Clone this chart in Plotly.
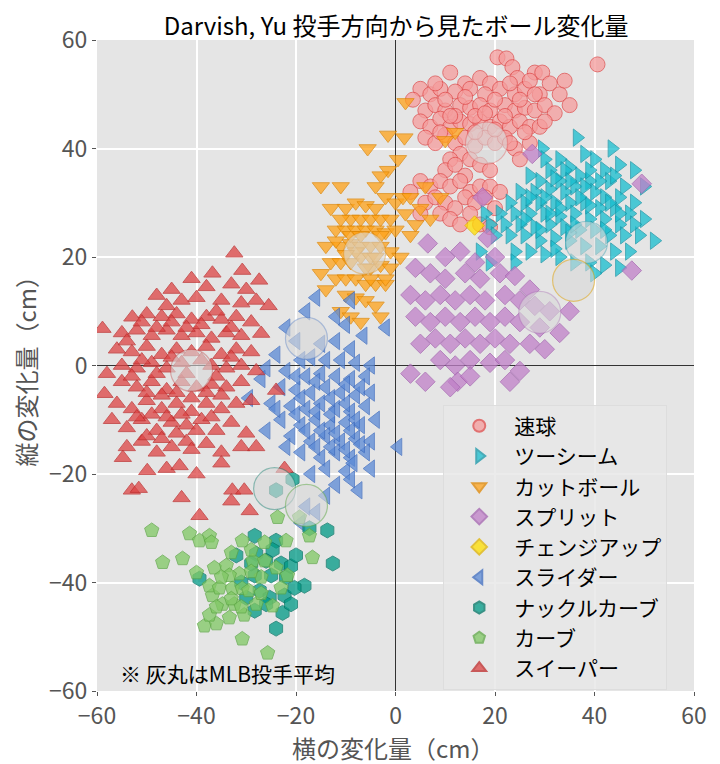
import plotly.graph_objects as go

# pitch types (legend order)
pitch_names = ["速球", "ツーシーム", "カットボール", "スプリット", "チェンジアップ",
               "スライダー", "ナックルカーブ", "カーブ", "スイーパー"]

# (horizontal cm, vertical cm)
fastball = [
    (20.5, 56.8), (22.3, 56.6), (23.5, 55), (24.5, 53), (28, 54), (29.5, 54), (31, 52), (17, 53), (19, 52),
    (11, 54), (14, 52), (40.6, 55.5), (5, 51), (7, 50), (9, 51), (12, 50.5), (15, 51), (18, 50), (21, 51),
    (24, 50), (26, 51), (29, 50), (33, 50), (35, 48), (3.5, 49), (6, 47), (8, 48), (10, 47), (13, 48),
    (15, 47.5), (17, 48), (19, 47), (22, 48), (24, 47), (26, 47.5), (28, 47), (30, 48), (32, 46.5),
    (5, 45), (7, 44), (9, 45.5), (11, 44), (13, 45), (15, 44.5), (17, 45), (19, 44), (21, 45), (23, 44),
    (25, 45), (27, 44), (29, 44), (6, 42), (8, 41), (10, 42.5), (12, 41), (14, 42), (16, 40.5), (18, 42),
    (20, 41), (22, 42), (24, 40), (27, 41), (13, 39), (15, 38), (11, 38), (25, 38), (10, 36), (12, 37),
    (17, 37), (19, 36), (14, 35), (3, 32), (5, 34), (7, 33), (9, 34), (11, 33), (13, 34), (15, 32),
    (17, 33), (19, 33), (6, 30), (8, 31), (10, 30), (12, 29), (14, 31), (16, 30), (18, 31), (9, 28),
    (11, 27), (13, 26), (15, 28), (17, 26), (19, 25.5), (5, 28), (21, 32), (20, 29),
    (8, 52), (10, 49), (12, 46), (14, 49.5), (16, 46), (18, 46.5), (20, 49), (22, 46), (23, 52), (25, 49),
    (27, 52.5), (9, 43), (11, 46), (16, 43), (20, 43.5), (23, 41), (26, 43), (30, 45), (28, 50), (34, 52.5),
]
two_seam = [
    (36.5, 42), (43.5, 40), (29.5, 40), (33, 38), (38, 39), (40, 38), (45, 37), (48, 36), (42, 36),
    (31, 36), (35, 36.5), (27, 35), (29, 34), (33, 34), (37, 35), (39, 34), (43, 34), (46, 33), (50, 33),
    (25, 32), (28, 32), (31, 32.5), (34, 32), (36, 33), (40, 32), (42, 31), (45, 31), (48, 30), (23, 30),
    (26, 30), (29, 30), (32, 30), (35, 30), (38, 30), (41, 29), (44, 29), (47, 28), (50, 27), (21, 28),
    (24, 28), (27, 28), (30, 28), (33, 27.5), (36, 28), (39, 27), (42, 27), (45, 26), (18, 28), (19, 26),
    (22, 26), (25, 26), (28, 25.5), (31, 26), (34, 25.5), (37, 25), (40, 25), (43, 24), (46, 24),
    (49, 24), (52, 23), (20, 24), (23, 24), (26, 24), (29, 23), (32, 23.5), (35, 23), (38, 22), (41, 22),
    (44, 21), (47, 21), (24, 21), (27, 21), (30, 20.5), (33, 20), (36, 19), (39, 19), (42, 18.5),
    (45, 18), (40, 17), (24, 19), (19, 19), (17, 21), (35, 24.5), (31, 28), (38, 33),
    (30, 38), (34, 36), (37, 31), (39, 36), (41, 34), (44, 35), (32, 34.5), (35, 34), (27, 31), (30, 31),
    (33, 29), (36, 26), (39, 29.5), (42, 25), (45, 28), (48, 26), (26, 27), (29, 25), (32, 21.5), (43, 30),
]
cutter = [
    (2, 48.5), (-1.5, 42.5), (1.8, 42), (-5.6, 40), (10, 41.5), (12, 43), (0.5, 38), (-1.5, 36), (-3, 35),
    (-15, 33), (-11, 33), (-4, 33), (-2, 31), (0, 30), (1.5, 31), (3, 31), (5, 29), (-13, 29), (-10, 29),
    (-8, 30), (-6, 29.5), (-4, 29), (-9, 27), (-7, 27), (-5, 27), (-3, 27), (-1, 27), (-12, 25), (-10, 25),
    (-8, 25), (-6, 25), (-4, 25), (-2, 24.5), (0, 25), (3, 24), (-14, 22), (-11, 22), (-9, 22.5), (-7, 22),
    (-5, 22), (-3, 22), (-1, 21), (1, 20), (-13, 19), (-11, 19), (-9, 19), (-5, 18), (-3, 18.5), (-1, 18),
    (-12, 16), (-10, 16), (-8, 16), (-6, 15), (-4, 15), (-2, 15), (-14, 14), (-10, 13), (-8, 12.5),
    (-6, 12), (-4, 11), (-11, 10), (-9, 9), (-7, 8), (-3, 9), (-2, 16), (-15, 17), (4, 26), (2, 28),
    (7, 27), (9, 31), (6, 33),
    (-9, 24), (-7, 20), (-5, 20), (-3, 24), (-11, 27), (-8, 21), (-6, 18), (-4, 20), (-10, 20.5),
    (-12, 23), (-7, 24), (-5, 16),
]
split = [
    (27.5, 39), (49.5, 33.5), (17.5, 31), (18.5, 23.5), (6.5, 22.5), (47.5, 17.5), (10, 20), (13, 21),
    (16, 19), (20, 20), (4, 18), (7, 17), (10, 16), (14, 17), (17, 16), (21, 17), (24, 16.5), (27, 14),
    (3, 13), (6, 12), (9, 13), (12, 12), (15, 13), (18, 12), (22, 13), (25, 12), (28, 11), (31, 10),
    (35, 10), (4, 9), (7, 8), (10, 9), (13, 8), (16, 9), (19, 8), (22, 9), (25, 8), (29, 7), (33, 6),
    (5, 4), (8, 5), (11, 4), (14, 5), (17, 4), (20, 5), (23, 4), (27, 4), (30, 3), (9, 1), (12, 0),
    (15, 1), (19, 0.5), (22, 1), (3, -1.5), (12.5, -3), (23, -3), (15, -2), (25, -1), (11, -4), (6, -3),
]
changeup = [(15.9, 25.8)]
slider = [
    (-16, 12.5), (-18, 10), (-9, 12), (-12, 9), (-10, 7.5), (-2, 7), (-6.5, 5.5), (-22, 7), (-20, 4.5),
    (-15, 4), (-12, 4.5), (-9, 3), (-24, 2), (-19, 1), (-17, 1.5), (-14, 1), (-11, 1), (-8, 0.5), (-5, 0),
    (-26, -0.5), (-22, -1), (-18, -2), (-15, -1.5), (-12, -2), (-9, -2.5), (-6, -2), (-27, -2.5),
    (-23, -4), (-20, -4.5), (-17, -5), (-14, -4), (-11, -5), (-8, -5.5), (-5, -5), (-29.5, -6), (-25, -7),
    (-21, -7.5), (-18, -8), (-15, -7), (-12, -8), (-9, -8.5), (-6, -7.5), (-23, -10), (-19, -11),
    (-16, -10), (-13, -11), (-10, -10.5), (-7, -11), (-4, -10), (-21, -13), (-17, -14), (-14, -13),
    (-11, -14), (-8, -13.5), (-5, -14), (-26, -12), (-19, -16), (-15, -17), (-12, -16), (-9, -17),
    (-6, -16), (0.5, -15), (-22, -15), (-14, -19), (-10, -19.5), (-8.5, -18), (-5, -19), (-17, -20),
    (-12, -22), (-9, -21), (-7.5, -23), (-14, -24), (-16, -27), (-18, -26), (-19, -29),
    (-20, -2), (-16, -3), (-13, -6), (-10, -3.5), (-7, -4), (-19, -6), (-16, -8.5), (-13, -9), (-10, -7),
    (-8, -10), (-18, -12), (-15, -12), (-12, -12.5), (-9, -12), (-16, -15), (-13, -15), (-10, -15.5),
    (-7, -14.5), (-20, -9), (-24, -8),
]
knuckle_curve = [
    (-20.7, -21), (-24, -23), (-28.3, -31.4), (-24, -32.3), (-17.3, -30), (-13.7, -30.4), (-12.6, -36.5),
    (-39.4, -39.3), (-18.3, -40.6), (-24, -48.5), (-22.7, -45.6), (-28.3, -45.2), (-32, -35), (-28, -34.7),
    (-24.7, -34), (-28.3, -38.7), (-25, -38.7), (-22, -39), (-27.3, -41.5), (-25.3, -42.8), (-22.3, -42.4),
    (-20.3, -41), (-30, -42.8), (-26, -36), (-23, -36.5), (-21, -37), (-29, -36.5), (-31, -40),
    (-26, -44), (-21, -44), (-20, -35),
]
curve = [
    (-49, -30.4), (-41.4, -31), (-39.4, -32.3), (-37.4, -31.4), (-37, -32.6), (-46.8, -36.3),
    (-42.8, -35.6), (-16.7, -35.4), (-17.3, -31.4), (-23.7, -28), (-19.3, -28), (-22, -32.3),
    (-30.8, -32.3), (-25.7, -53), (-30.8, -50.4), (-38.4, -48), (-36, -47.6), (-37.4, -46), (-33.4, -46.5),
    (-30.4, -46), (-40, -38.2), (-36.4, -37.3), (-34, -36.9), (-36.8, -42.4), (-34.8, -44), (-32.4, -44),
    (-37.4, -40.6), (-35.4, -41), (-32.8, -41.1), (-30.8, -41.1), (-31.4, -38.4), (-33.4, -38.7),
    (-28.7, -36), (-26.3, -36), (-24, -37.3), (-21.7, -38.7), (-24.7, -44.3), (-28, -44), (-26.3, -32.6),
    (-29, -34), (-27, -39), (-29.5, -41.5), (-23, -41), (-33, -34.5),
    (-35, -39), (-33, -43), (-29, -38), (-27, -42), (-31, -44.5), (-36, -44.5),
]
sweeper = [
    (-32.4, 20.7), (-36.8, 17), (-30.8, 17.5), (-41, 16), (-27.4, 15.7), (-33, 15), (-38, 14.5), (-30, 14),
    (-45, 14), (-48, 12.9), (-43, 12), (-40, 12.5), (-35, 12), (-31, 11.5), (-28, 12), (-25.5, 11),
    (-46, 11), (-52.9, 8.9), (-50, 9.5), (-47, 9), (-44, 9.5), (-41, 8.5), (-38, 9), (-35, 8.5), (-32, 9),
    (-29, 8), (-58.9, 6.8), (-55, 6), (-52, 6.5), (-49, 5.5), (-46, 6.5), (-43, 5.5), (-40, 6), (-37, 5),
    (-34, 6), (-31, 5.5), (-27, 5.9), (-56, 3), (-53, 2.5), (-50, 3.5), (-47, 2), (-44, 3), (-41, 2.5),
    (-38, 3.5), (-35, 2), (-32, 3), (-29, 2.5), (-58, -1.5), (-55, 0), (-52, -0.5), (-49, 0.5),
    (-46, -0.5), (-43, 0.5), (-37, 0), (-34, -0.5), (-31, 0), (-28, -1), (-58.5, -5.2), (-55, -3),
    (-52, -4), (-49, -3), (-46, -4.5), (-43, -3), (-40, -4), (-37, -3.5), (-34, -4), (-31, -3),
    (-24, -4.6), (-56, -7), (-53, -8), (-50, -6.5), (-47, -8), (-44, -7), (-41, -8.5), (-38, -7),
    (-35, -8), (-32, -7), (-29, -6.5), (-57, -10), (-54, -11.5), (-51, -10), (-48, -12), (-45, -10.5),
    (-42, -11), (-39, -10), (-36, -12), (-33, -10.5), (-30, -12.5), (-54, -15), (-54.8, -17), (-51, -14),
    (-48, -16), (-45, -15), (-42, -14), (-38, -14.4), (-35, -16), (-31, -15), (-28, -15), (-49.9, -19.4),
    (-46, -19), (-43.4, -18.5), (-35, -18), (-40, -20), (-22.3, -19), (-53, -23), (-51.6, -22.7),
    (-43, -24.4), (-32.8, -23), (-30.4, -23), (-33, -25), (-29.3, -26.8), (-39.4, -27.7),
    (-51, 8), (-48, 7), (-45, 8), (-42, 7), (-39, 7.5), (-36, 10), (-33, 7), (-54, 4.5), (-51, 1),
    (-48, -1.5), (-45, 1.5), (-42, -1.5), (-39, 1), (-36, -2), (-33, 1.5), (-53, -2), (-50, -5),
    (-47, -5.5), (-44, -5), (-41, -6), (-38, -5), (-35, -5.5), (-52, -9.5), (-49, -9), (-46, -9.5),
    (-43, -9), (-40, -12), (-37, -9.5), (-50, -13), (-47, -13.5), (-44, -12.5), (-41, -15.5),
]

# MLB average movement per pitch type (gray circles)
mlb_avg = [(18.3, 41), (38.4, 22.7), (-6.2, 20.7), (29, 9.8), (35.8, 15.7),
           (-17.9, 5), (-24.3, -22.7), (-17.9, -25.8), (-41, -0.9)]

pitches = [fastball, two_seam, cutter, split, changeup, slider, knuckle_curve, curve, sweeper]
symbols = ["circle", "triangle-right", "triangle-down", "diamond", "diamond",
           "triangle-left", "hexagon", "pentagon", "triangle-up"]
fills = ["#F59C9C", "#17BECF", "#FFA31A", "#C080C8", "#FFE000",
         "#5B8AD6", "#009A86", "#80C864", "#DD4444"]
edges = ["#E04A4A", "#1496A8", "#E08600", "#A462B0", "#E0B400",
         "#3D6CC0", "#007565", "#5EA846", "#BE2A2A"]
avg_edges = ["rgba(224,74,74,0.35)", "rgba(20,150,168,0.35)", "rgba(224,134,0,0.35)",
             "rgba(164,98,176,0.35)", "rgba(224,160,0,0.5)", "rgba(61,108,192,0.35)",
             "rgba(0,117,101,0.4)", "rgba(94,168,70,0.5)", "rgba(190,42,42,0.35)"]

fig = go.Figure()

for name, pts, sym, fc, ec in zip(pitch_names, pitches, symbols, fills, edges):
    fig.add_trace(go.Scatter(
        x=[p[0] for p in pts], y=[p[1] for p in pts], mode="markers", name=name,
        marker=dict(symbol=sym, size=15, color=fc, opacity=0.75, line=dict(color=ec, width=1)),
    ))

for (ax, ay), ec in zip(mlb_avg, avg_edges):
    fig.add_trace(go.Scatter(
        x=[ax], y=[ay], mode="markers", showlegend=False, hoverinfo="skip",
        marker=dict(size=42, color="rgba(215,215,215,0.6)", line=dict(color=ec, width=1.2)),
    ))

axis_style = dict(
    range=[-60, 60], dtick=20, showgrid=True, gridcolor="white", gridwidth=1.5,
    zeroline=True, zerolinecolor="#333333", zerolinewidth=1,
    ticks="outside", ticklen=4, tickcolor="#555555",
    tickfont=dict(size=23, color="#555555"), showline=False,
)

fig.update_layout(
    width=712, height=756,
    margin=dict(l=89, r=26, t=32, b=73),
    paper_bgcolor="white", plot_bgcolor="#E5E5E5",
    font=dict(family="Noto Sans CJK JP", color="#555555"),
    title=dict(text="Darvish, Yu 投手方向から見たボール変化量", x=0.545, xanchor="center",
               y=0.975, yanchor="middle", font=dict(size=24, color="black")),
    xaxis=axis_style,
    yaxis=axis_style,
    legend=dict(x=0.58, y=0.44, xanchor="left", yanchor="top",
                bgcolor="rgba(232,232,232,0.85)", bordercolor="#DDDDDD", borderwidth=1,
                font=dict(size=21, color="black"), itemsizing="constant", itemwidth=60),
    annotations=[
        dict(text="※ 灰丸はMLB投手平均", xref="paper", yref="paper", x=0.035, y=0.028,
             xanchor="left", yanchor="middle", showarrow=False, font=dict(size=21, color="black")),
        dict(text="横の変化量（cm）", xref="paper", yref="paper", x=0.496, y=-0.087,
             xanchor="center", yanchor="middle", showarrow=False, font=dict(size=24, color="#555555")),
        dict(text="縦の変化量（cm）", xref="paper", yref="paper", x=-0.1206, y=0.5, textangle=-90,
             xanchor="center", yanchor="middle", showarrow=False, font=dict(size=24, color="#555555")),
    ],
)

fig.write_html("out.html")
